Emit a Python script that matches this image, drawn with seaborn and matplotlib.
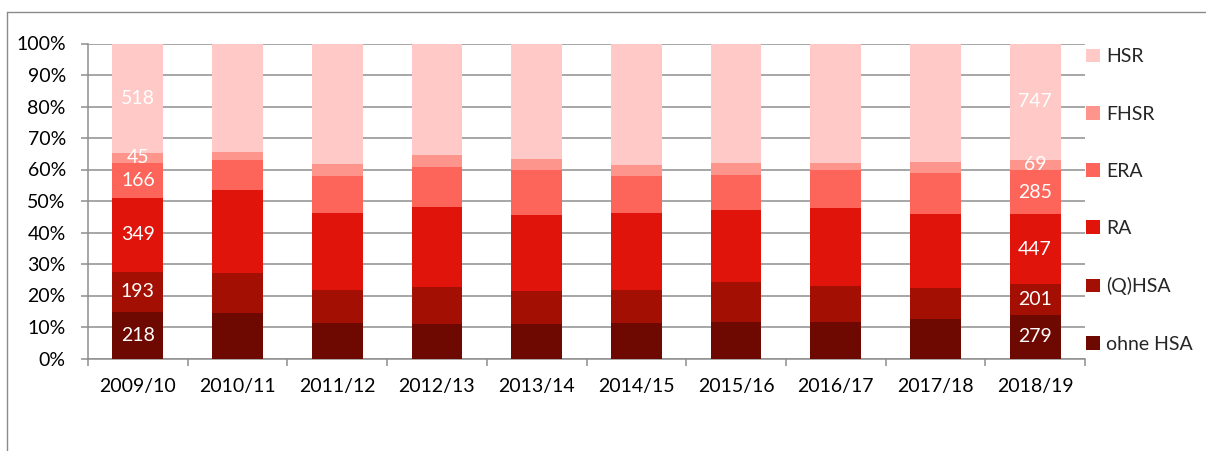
import numpy as np
import pandas as pd
import matplotlib
matplotlib.use("Agg")
import matplotlib.pyplot as plt
from matplotlib.patches import Patch
from matplotlib.lines import Line2D
import seaborn as sns

# ---- data -------------------------------------------------------------
years = ["2009/10", "2010/11", "2011/12", "2012/13", "2013/14",
         "2014/15", "2015/16", "2016/17", "2017/18", "2018/19"]
series = ["ohne HSA", "(Q)HSA", "RA", "ERA", "FHSR", "HSR"]

# share of each group in percent
ohne_hsa = [14.64, 14.6, 11.4, 10.9, 11.1, 11.2, 11.6, 11.7, 12.6, 13.76]
q_hsa    = [12.96, 12.7, 10.2, 11.9, 10.2, 10.4, 12.6, 11.2, 9.9, 9.91]
ra       = [23.44, 26.1, 24.6, 25.3, 24.1, 24.5, 22.9, 24.9, 23.4, 22.04]
era      = [11.15, 9.6, 11.8, 12.7, 14.4, 11.9, 11.2, 11.9, 13.0, 14.05]
fhsr     = [3.02, 2.5, 3.7, 3.8, 3.5, 3.3, 3.8, 2.3, 3.4, 3.40]
hsr      = [34.79, 34.5, 38.3, 35.4, 36.7, 38.7, 37.9, 38.0, 37.7, 36.83]

# absolute counts shown as labels (first and last year only)
labels_2009 = [218, 193, 349, 166, 45, 518]
labels_2018 = [279, 201, 447, 285, 69, 747]

colors = ["#6e0902", "#a31003", "#e0140a", "#fd645a", "#fd958d", "#fec9c6"]

# ---- figure -----------------------------------------------------------
sns.set_theme(style="white")
plt.rcParams["font.family"] = ["Lato", "DejaVu Sans"]

W, H = 1206, 451
fig = plt.figure(figsize=(W / 100, H / 100), dpi=100)
ax = fig.add_axes([88 / W, 1 - 358.5 / H, (1085 - 88) / W, (358.5 - 43.5) / H])

# chart frame (Excel chart area border)
fig.add_artist(Line2D([7 / W, 7 / W], [0, 1 - 12 / H], transform=fig.transFigure,
                      color="#8a8a8a", lw=1.0))
fig.add_artist(Line2D([7 / W, 1.0], [1 - 12 / H, 1 - 12 / H], transform=fig.transFigure,
                      color="#8a8a8a", lw=1.0))

shares = np.array([ohne_hsa, q_hsa, ra, era, fhsr, hsr])
cum = np.cumsum(shares, axis=0)
cum = cum / cum[-1] * 100.0

# draw from top layer down so each lower layer overlays
for i in range(len(series) - 1, -1, -1):
    df = pd.DataFrame({"year": years, "value": cum[i]})
    sns.barplot(data=df, x="year", y="value", color=colors[i], width=0.51,
                saturation=1, edgecolor="none", linewidth=0, ax=ax, zorder=3)

# value labels on first and last bar
for col, labs in ((0, labels_2009), (len(years) - 1, labels_2018)):
    for i, lab in enumerate(labs):
        top = cum[i][col]
        bot = cum[i - 1][col] if i > 0 else 0.0
        ax.text(col, (top + bot) / 2, str(lab), ha="center", va="center",
                color="white", fontsize=14, zorder=5)

ax.set_xlim(-0.5, len(years) - 0.5)
ax.set_ylim(0, 100)
ax.set_yticks(np.arange(0, 101, 10))
ax.set_yticklabels([f"{v}%" for v in range(0, 101, 10)])
ax.set_xlabel("")
ax.set_ylabel("")

grid_c = "#8e8e8e"
ax.yaxis.grid(True, color=grid_c, lw=1.1, zorder=0)
ax.set_axisbelow(True)
for s in ["top", "right"]:
    ax.spines[s].set_visible(False)
for s in ["left", "bottom"]:
    ax.spines[s].set_color(grid_c)
    ax.spines[s].set_linewidth(1.1)

ax.tick_params(axis="y", left=True, length=5, width=1.1, color=grid_c,
               pad=11, labelsize=14, labelcolor="black")
ax.set_xticks(np.arange(-0.5, len(years), 1.0), minor=True)
ax.tick_params(axis="x", which="minor", bottom=True, length=5, width=1.1,
               color=grid_c, direction="out")
ax.tick_params(axis="x", which="major", bottom=False, length=0, pad=14,
               labelsize=14, labelcolor="black")

handles = [Patch(facecolor=colors[i], edgecolor="none", label=series[i])
           for i in range(len(series) - 1, -1, -1)]
fig.legend(handles=handles, loc="center left",
           bbox_to_anchor=(1086 / W, 1 - 200.5 / H), frameon=False,
           fontsize=14, handlelength=0.7, handleheight=0.7,
           handletextpad=0.35, labelspacing=2.07, borderpad=0,
           borderaxespad=0)

fig.savefig("out.png", dpi=100)
